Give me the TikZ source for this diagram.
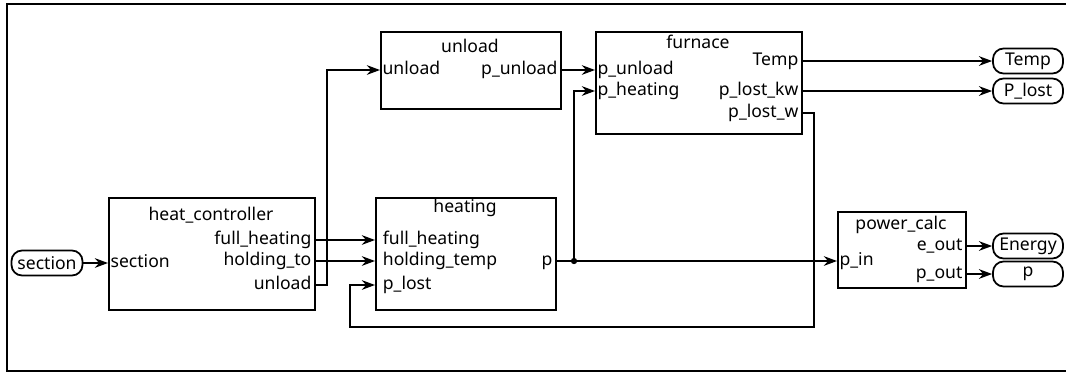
\documentclass[tikz,border=0pt]{standalone}
\usepackage{fontspec}
\setmainfont{Noto Sans}
\usetikzlibrary{arrows.meta, calc, positioning}
\newcommand{\diagfont}{\fontsize{10}{12}\selectfont}
\tikzset{
    block/.style={rectangle, draw, line width=1pt, anchor=north west, inner sep=0pt},
    blocktitle/.style={font=\diagfont, inner sep=0pt},
    portin/.style={anchor=west, font=\diagfont, inner xsep=1.5pt, inner ysep=0pt,
        outer sep=0pt, text height=7pt, text depth=2pt},
    portout/.style={portin, anchor=east},
    terminal/.style={rectangle, rounded corners=6pt, draw, line width=1pt,
        minimum width=1.4cm, minimum height=0.5cm, inner sep=0pt, font=\diagfont},
    wire/.style={line width=1pt, -{Stealth[length=7.5pt, width=5.5pt]}}
}

\begin{document}
\begin{tikzpicture}[x=0.02cm, y=-0.02cm]
    \useasboundingbox (0,0) rectangle (1066,373);
    % Outer frame
    \draw[line width=0.8pt] (1075,4) -- (7,4) -- (7,371) -- (1075,371);

    % Blocks
    \node[block, minimum width=4.12cm, minimum height=2.24cm] (hc) at (108,197) {};
    \node[block, minimum width=3.6cm, minimum height=2.24cm] (heat) at (375,197) {};
    \node[block, minimum width=3.6cm, minimum height=1.54cm] (unl) at (380,31) {};
    \node[block, minimum width=4.12cm, minimum height=2.04cm] (furn) at (595,31) {};
    \node[block, minimum width=2.56cm, minimum height=1.52cm] (pc) at (837,211) {};

    % Titles
    \node[blocktitle] (hc-title) at (211,215) {heat\_controller};
    \node[blocktitle] (heat-title) at (465,208) {heating};
    \node[blocktitle] (unl-title) at (470,46) {unload};
    \node[blocktitle] (furn-title) at (698,42) {furnace};
    \node[blocktitle] (pc-title) at (901,225) {power\_calc};

    % Ports
    \node[portin] (hc-sec) at (108,263) {section};
    \node[portout] (hc-full) at (314,240) {full\_heating};
    \node[portout] (hc-hold) at (314,261) {holding\_to};
    \node[portout] (hc-unl) at (314,285) {unload};

    \node[portin, inner xsep=4.5pt] (ht-full) at (375,240) {full\_heating};
    \node[portin, inner xsep=4.5pt] (ht-hold) at (375,261) {holding\_temp};
    \node[portin, inner xsep=4.5pt] (ht-plost) at (375,285) {p\_lost};
    \node[portout] (ht-p) at (555,261) {p};

    \node[portin] (ul-in) at (380,70) {unload};
    \node[portout] (ul-out) at (560,70) {p\_unload};

    \node[portin] (fu-unl) at (595,70) {p\_unload};
    \node[portin] (fu-heat) at (595,91) {p\_heating};
    \node[portout] (fu-temp) at (801,61) {Temp};
    \node[portout] (fu-kw) at (801,91) {p\_lost\_kw};
    \node[portout] (fu-w) at (801,113) {p\_lost\_w};

    \node[portin] (pc-in) at (837,261) {p\_in};
    \node[portout] (pc-e) at (965,246) {e\_out};
    \node[portout] (pc-p) at (965,274) {p\_out};

    % Terminals
    \node[terminal, minimum width=1.42cm] (in-sec) at (47,263) {section};
    \node[terminal] (out-temp) at (1028,61) {Temp};
    \node[terminal] (out-plost) at (1028,91) {P\_lost};
    \node[terminal] (out-en) at (1028,246) {Energy};
    \node[terminal] (out-p) at (1028,274) {p};

    % Connections
    \coordinate (split) at (574,261);
    \coordinate (fb) at (350,327);
    \draw[wire] (in-sec.east) -- (hc-sec.west);
    \draw[wire] (hc-full.east) -- (ht-full.west);
    \draw[wire] (hc-hold.east) -- (ht-hold.west);
    \draw[wire] (hc-unl.east) -- ++(13,0) |- (ul-in.west);
    \draw[wire] (ul-out.east) -- (fu-unl.west);
    \draw[wire] (ht-p.east) -- (pc-in.west);
    \draw[wire] (split) |- (fu-heat.west);
    \fill (split) circle (1.8pt);
    \draw[wire] (fu-temp.east) -- (out-temp.west);
    \draw[wire] (fu-kw.east) -- (out-plost.west);
    \draw[wire] (fu-w.east) -- ++(13,0) |- (fb) |- (ht-plost.west);
    \draw[wire] (pc-e.east) -- (out-en.west);
    \draw[wire] (pc-p.east) -- (out-p.west);
\end{tikzpicture}
\end{document}
